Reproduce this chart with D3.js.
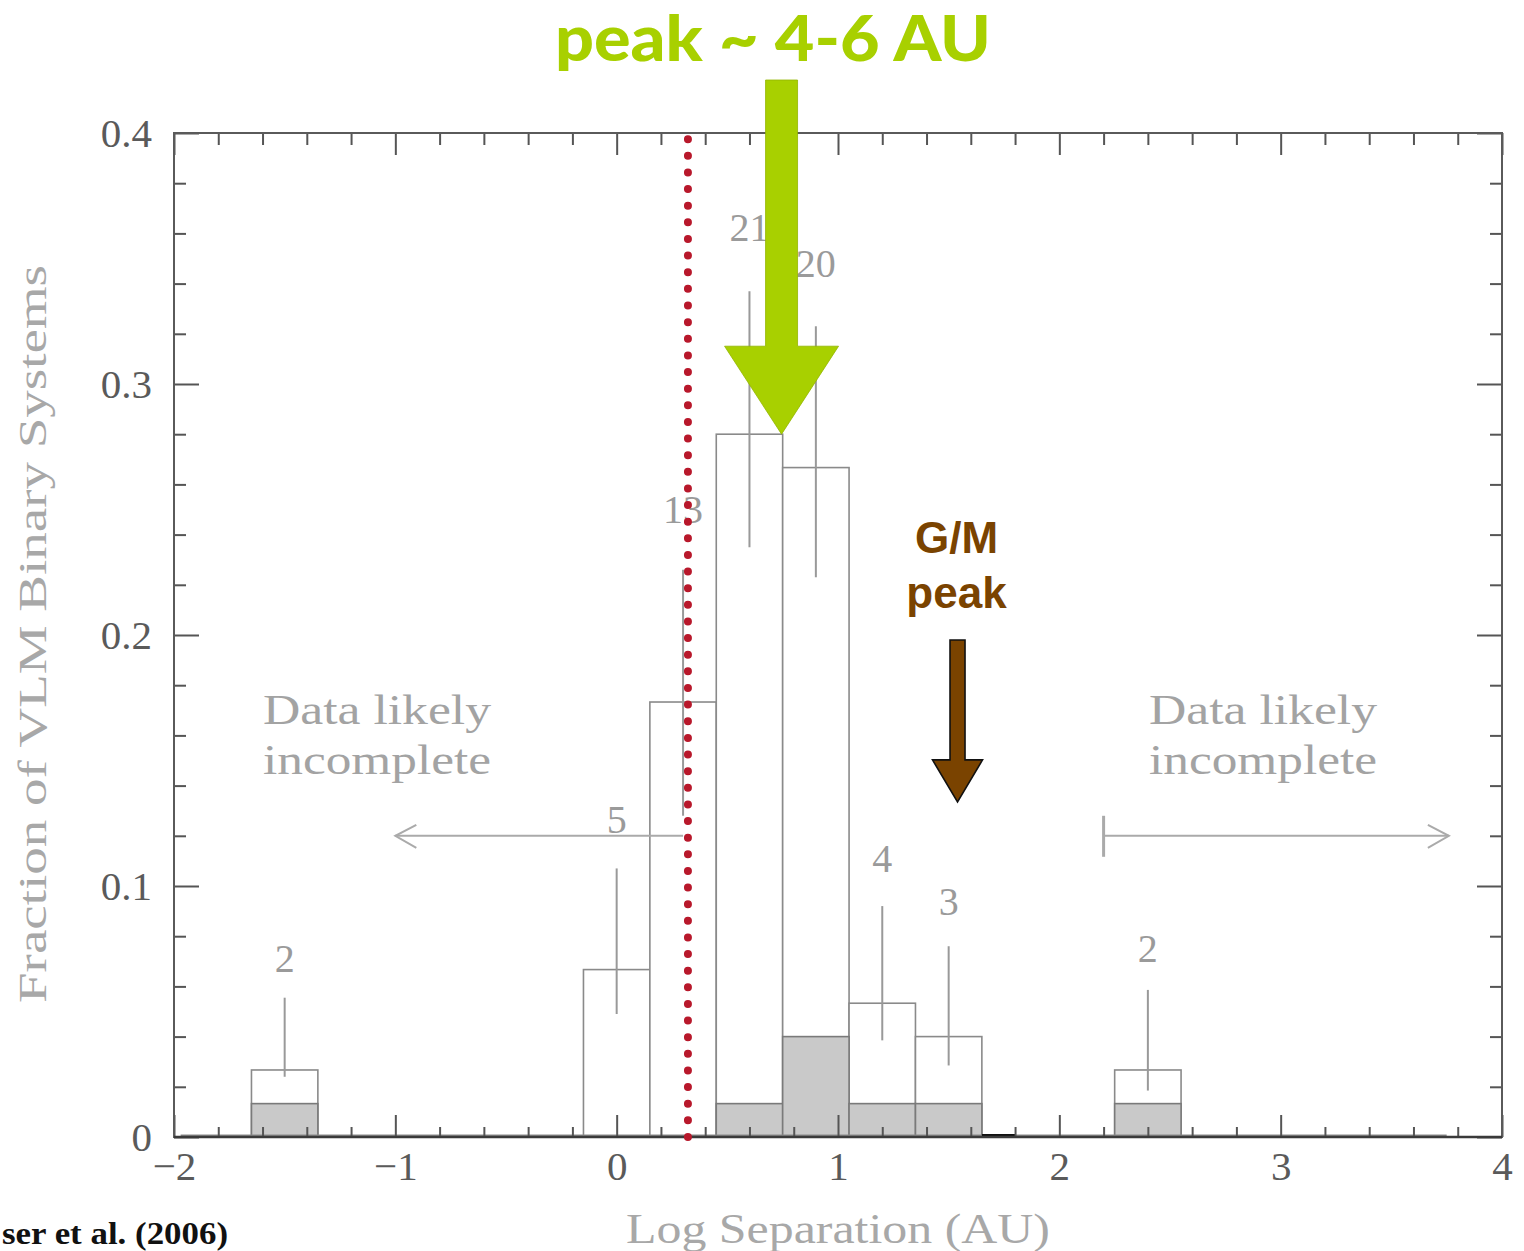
<!DOCTYPE html>
<html>
<head>
<meta charset="utf-8">
<script src="https://cdn.jsdelivr.net/npm/d3@7"></script>
<style>
  html, body { margin: 0; padding: 0; background: #fff; }
  svg { display: block; }
</style>
</head>
<body>
<svg id="chart" width="1524" height="1251"></svg>
<script>
// Histogram of very-low-mass binary separations (log AU), 0.3 dex bins
const binCenters   = [-1.5, 0.0, 0.3, 0.6, 0.9, 1.2, 1.5, 2.4];
const binWidth     = 0.3;
const counts       = [2, 5, 13, 21, 20, 4, 3, 2];
const fractions    = [0.0267, 0.0667, 0.1733, 0.2800, 0.2667, 0.0533, 0.0400, 0.0267];
const subsetFrac   = [0.0133, 0, 0, 0.0133, 0.0400, 0.0133, 0.0133, 0.0133];
const errLow       = [0.0240, 0.0490, 0.1280, 0.2350, 0.2230, 0.0385, 0.0285, 0.0185];
const errHigh      = [0.0555, 0.1070, 0.2260, 0.3370, 0.3230, 0.0920, 0.0760, 0.0586];

const xTicks       = [-2, -1, 0, 1, 2, 3, 4];
const yTicks       = [0, 0.1, 0.2, 0.3, 0.4];
const resolutionLimit = 0.322;           // log separation of the dotted limit
const incompleteLeft  = [-1.0, 0.3];     // arrow span (log AU)
const incompleteRight = [2.2, 3.76];
const incompleteLevel = 0.12;
const peakVLM = 0.745, peakVLMLevel = 0.28;
const peakGM  = 1.54,  peakGMLevel  = 0.1335;

const svg = d3.select("#chart");
const x = d3.scaleLinear().domain([-2, 4]).range([174, 1502]);
const y = d3.scaleLinear().domain([0, 0.4]).range([1137, 133]);

const serif = "'Liberation Serif', 'DejaVu Serif', serif";
const gridGray = "#8a8a8a";

// ---- bars ----
const bars = svg.append("g");
bars.selectAll("rect.total").data(binCenters).join("rect")
  .attr("class", "total")
  .attr("x", d => x(d - binWidth / 2))
  .attr("width", d => x(d + binWidth / 2) - x(d - binWidth / 2))
  .attr("y", (d, i) => y(fractions[i]))
  .attr("height", (d, i) => y(0) - y(fractions[i]))
  .attr("fill", "#fff").attr("stroke", gridGray).attr("stroke-width", 1.6);

bars.selectAll("rect.subset").data(binCenters.filter((d, i) => subsetFrac[i] > 0)).join("rect")
  .attr("class", "subset")
  .attr("x", d => x(d - binWidth / 2))
  .attr("width", d => x(d + binWidth / 2) - x(d - binWidth / 2))
  .attr("y", d => y(subsetFrac[binCenters.indexOf(d)]))
  .attr("height", d => y(0) - y(subsetFrac[binCenters.indexOf(d)]))
  .attr("fill", "#c9c9c9").attr("stroke", "#7a7a7a").attr("stroke-width", 1.6);

// ---- error bars ----
bars.selectAll("line.err").data(binCenters).join("line")
  .attr("class", "err")
  .attr("x1", d => x(d)).attr("x2", d => x(d))
  .attr("y1", (d, i) => y(errLow[i])).attr("y2", (d, i) => y(errHigh[i]))
  .attr("stroke", "#999").attr("stroke-width", 2);

// ---- count labels above the error bars ----
bars.selectAll("text.count").data(binCenters).join("text")
  .attr("class", "count")
  .attr("x", d => x(d))
  .attr("y", (d, i) => y(errHigh[i] + 0.35 * (errHigh[i] - fractions[i])))
  .attr("text-anchor", "middle")
  .attr("font-family", serif).attr("font-size", 40)
  .attr("fill", "#9a9a9a")
  .text((d, i) => counts[i]);

// ---- baseline of empty bins ----
svg.append("line")
  .attr("x1", x(-1.97)).attr("x2", x(3.75))
  .attr("y1", y(0) - 1).attr("y2", y(0) - 1)
  .attr("stroke", "#8a8a8a").attr("stroke-width", 3);
svg.append("line")
  .attr("x1", x(1.65)).attr("x2", x(1.8))
  .attr("y1", y(0) - 1.5).attr("y2", y(0) - 1.5)
  .attr("stroke", "#111").attr("stroke-width", 3);

// ---- frame and ticks on all four sides ----
const minorX = d3.range(-2, 4.001, 0.2).filter(v => Math.abs(v - Math.round(v)) > 1e-6);
const minorY = d3.range(0, 0.4001, 0.02).filter(v => Math.abs(v * 10 - Math.round(v * 10)) > 1e-6);
const fmtX = d3.format("d");
const fmtY = d => d === 0 ? "0" : d3.format(".1f")(d);

function styleAxis(g) {
  g.select(".domain").remove();
  g.selectAll(".tick line").attr("stroke", "#555").attr("stroke-width", 2);
  g.selectAll(".tick text").attr("font-family", serif).attr("font-size", 41).attr("fill", "#5a5a5a");
}

svg.append("g").attr("transform", `translate(0,${y(0)})`)
  .call(d3.axisBottom(x).tickValues(xTicks).tickSize(-22).tickPadding(14).tickFormat(fmtX)).call(styleAxis);
svg.append("g").attr("transform", `translate(0,${y(0)})`)
  .call(d3.axisBottom(x).tickValues(minorX).tickSize(-10).tickFormat("")).call(styleAxis);
svg.append("g").attr("transform", `translate(0,${y(0.4)})`)
  .call(d3.axisTop(x).tickValues(xTicks).tickSize(-22).tickFormat("")).call(styleAxis);
svg.append("g").attr("transform", `translate(0,${y(0.4)})`)
  .call(d3.axisTop(x).tickValues(minorX).tickSize(-12).tickFormat("")).call(styleAxis);
svg.append("g").attr("transform", `translate(${x(-2)},0)`)
  .call(d3.axisLeft(y).tickValues(yTicks).tickSize(-25).tickPadding(22).tickFormat(fmtY)).call(styleAxis);
svg.append("g").attr("transform", `translate(${x(-2)},0)`)
  .call(d3.axisLeft(y).tickValues(minorY).tickSize(-12).tickFormat("")).call(styleAxis);
svg.append("g").attr("transform", `translate(${x(4)},0)`)
  .call(d3.axisRight(y).tickValues(yTicks).tickSize(-25).tickFormat("")).call(styleAxis);
svg.append("g").attr("transform", `translate(${x(4)},0)`)
  .call(d3.axisRight(y).tickValues(minorY).tickSize(-12).tickFormat("")).call(styleAxis);

svg.append("rect")
  .attr("x", x(-2)).attr("y", y(0.4))
  .attr("width", x(4) - x(-2)).attr("height", y(0) - y(0.4))
  .attr("fill", "none").attr("stroke", "#5a5a5a").attr("stroke-width", 2);
svg.append("line")
  .attr("x1", x(-2)).attr("x2", x(4)).attr("y1", y(0)).attr("y2", y(0))
  .attr("stroke", "#3a3a3a").attr("stroke-width", 2.5);

// ---- axis titles ----
svg.append("text")
  .attr("x", 838).attr("y", 1243)
  .attr("text-anchor", "middle")
  .attr("font-family", serif).attr("font-size", 42).attr("fill", "#a8a8a8")
  .attr("textLength", 424).attr("lengthAdjust", "spacingAndGlyphs")
  .text("Log Separation (AU)");
svg.append("text")
  .attr("transform", "translate(46,634) rotate(-90)")
  .attr("text-anchor", "middle")
  .attr("font-family", serif).attr("font-size", 41).attr("fill", "#a8a8a8")
  .attr("textLength", 738).attr("lengthAdjust", "spacingAndGlyphs")
  .text("Fraction of VLM Binary Systems");

// ---- incompleteness notes ----
const noteGray = "#a3a3a3";
function note(xLeft, lines) {
  lines.forEach((t, i) => {
    svg.append("text")
      .attr("x", xLeft).attr("y", 724 + i * 50)
      .attr("font-family", serif).attr("font-size", 42).attr("fill", noteGray)
      .attr("textLength", 228).attr("lengthAdjust", "spacingAndGlyphs")
      .text(t);
  });
}
note(263, ["Data likely", "incomplete"]);
note(1149, ["Data likely", "incomplete"]);

const yl = y(incompleteLevel);
const arrows = svg.append("g").attr("stroke", "#aaa").attr("stroke-width", 2).attr("fill", "none");
arrows.append("line").attr("x1", x(incompleteLeft[0])).attr("x2", x(incompleteLeft[1])).attr("y1", yl).attr("y2", yl);
arrows.append("polyline")
  .attr("points", `${x(incompleteLeft[0]) + 21},${yl - 11} ${x(incompleteLeft[0])},${yl} ${x(incompleteLeft[0]) + 21},${yl + 12}`);
arrows.append("line").attr("x1", x(incompleteRight[0])).attr("x2", x(incompleteRight[1])).attr("y1", yl).attr("y2", yl);
arrows.append("line").attr("x1", x(incompleteRight[0])).attr("x2", x(incompleteRight[0]))
  .attr("y1", yl - 20).attr("y2", yl + 21).attr("stroke-width", 3);
arrows.append("polyline")
  .attr("points", `${x(incompleteRight[1]) - 21},${yl - 11} ${x(incompleteRight[1])},${yl} ${x(incompleteRight[1]) - 21},${yl + 12}`);

// ---- resolution limit: dotted red line ----
svg.append("line")
  .attr("x1", x(resolutionLimit)).attr("x2", x(resolutionLimit))
  .attr("y1", y(0)).attr("y2", y(0.4) + 2)
  .attr("stroke", "#b8182b").attr("stroke-width", 8)
  .attr("stroke-linecap", "round").attr("stroke-dasharray", "0 16.63");

// ---- VLM peak arrow and title ----
const gx = x(peakVLM), gy = y(peakVLMLevel);
const green = "#a8d000";
svg.append("path")
  .attr("d", `M${gx - 16},80 L${gx + 16},80 L${gx + 16},${gy - 88} L${gx + 57},${gy - 88}
              L${gx},${gy} L${gx - 57},${gy - 88} L${gx - 16},${gy - 88} Z`)
  .attr("fill", green).attr("stroke", "#93b500").attr("stroke-width", 0.8);
svg.append("text")
  .attr("x", 773).attr("y", 61)
  .attr("text-anchor", "middle")
  .attr("font-family", "Lato, 'Noto Sans', sans-serif").attr("font-weight", 900)
  .attr("font-size", 62).attr("fill", green)
  .attr("textLength", 436).attr("lengthAdjust", "spacingAndGlyphs")
  .text("peak ~ 4-6 AU");

// ---- G/M peak arrow and label ----
const bx = x(peakGM), by = y(peakGMLevel);
const brown = "#7a4300";
svg.append("path")
  .attr("d", `M${bx - 7.5},640 L${bx + 7.5},640 L${bx + 7.5},${by - 42} L${bx + 25},${by - 42}
              L${bx},${by} L${bx - 25},${by - 42} L${bx - 7.5},${by - 42} Z`)
  .attr("fill", brown).attr("stroke", "#111").attr("stroke-width", 1.6);
[["G/M", 553], ["peak", 608]].forEach(([t, yy]) => {
  svg.append("text")
    .attr("x", bx - 1).attr("y", yy)
    .attr("text-anchor", "middle")
    .attr("font-family", "'Liberation Sans', Arial, sans-serif").attr("font-weight", 700)
    .attr("font-size", 44).attr("fill", brown)
    .text(t);
});

// ---- source ----
svg.append("text")
  .attr("x", 2).attr("y", 1244)
  .attr("font-family", serif).attr("font-weight", 700)
  .attr("font-size", 32).attr("fill", "#111")
  .attr("textLength", 226).attr("lengthAdjust", "spacingAndGlyphs")
  .text("ser et al. (2006)");
</script>
</body>
</html>
